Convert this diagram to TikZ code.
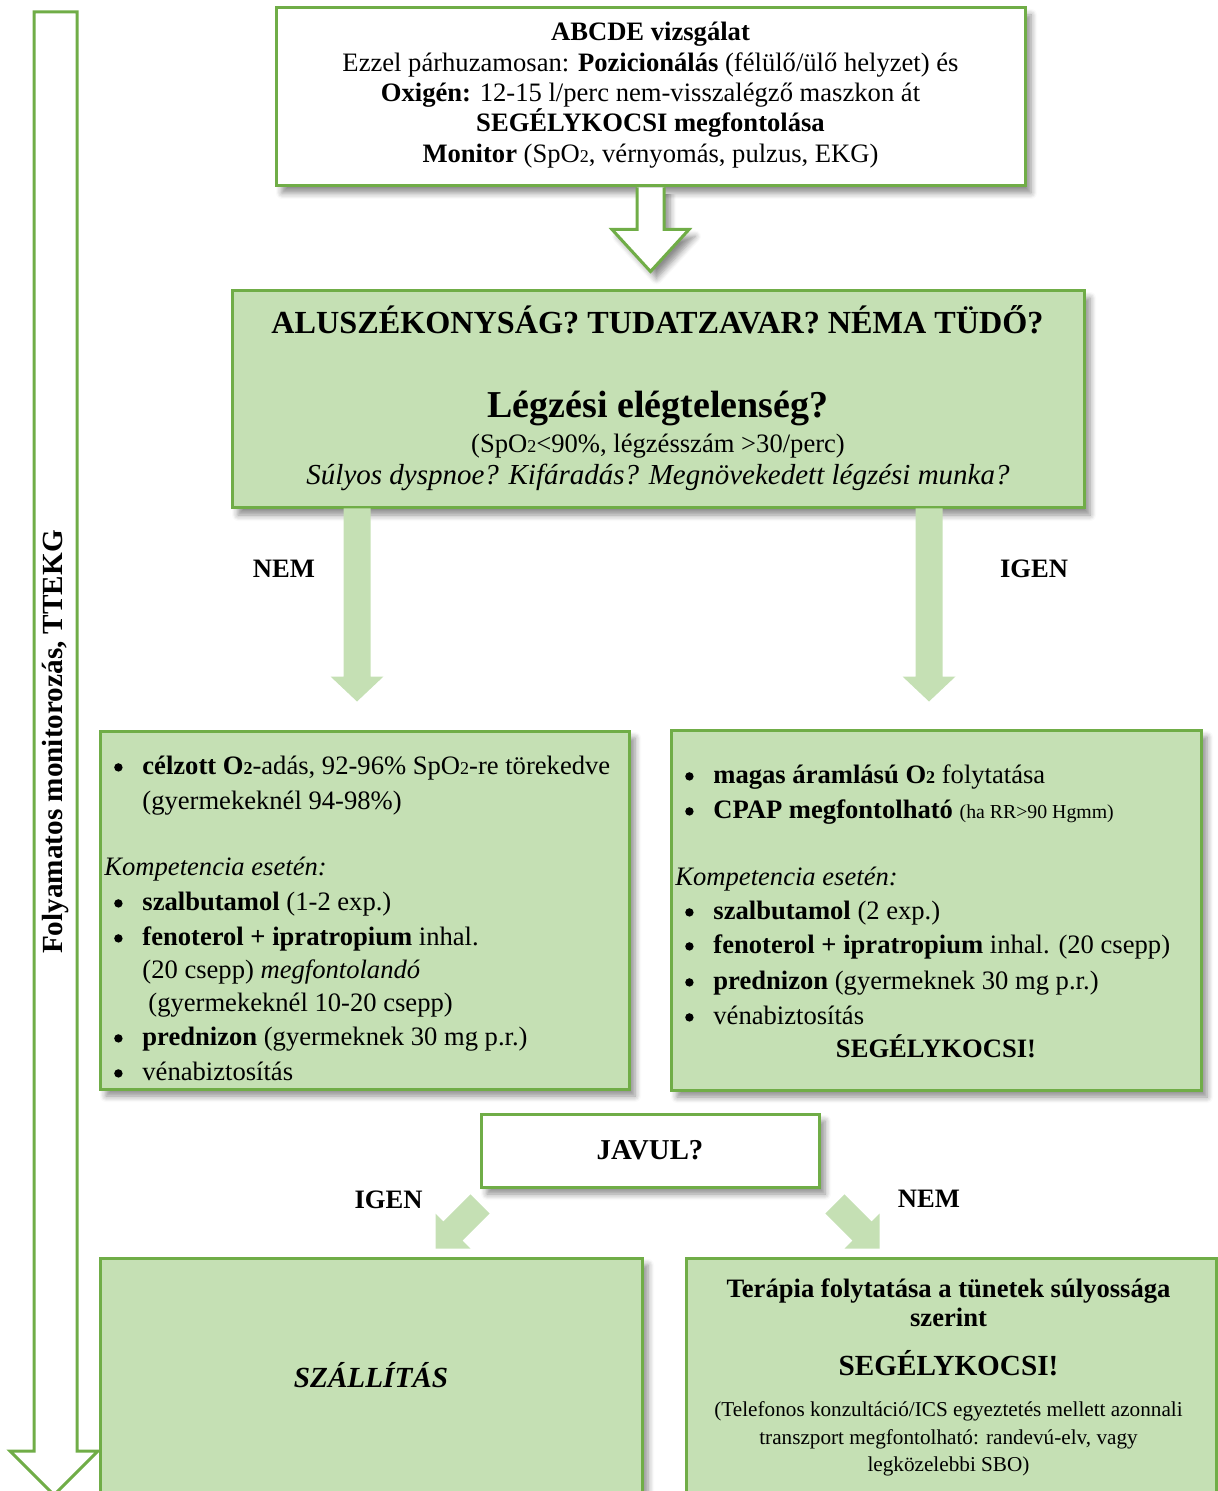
\documentclass[tikz,border=0pt]{standalone}
\usepackage{fontspec}
\setmainfont{Liberation Serif}
\usetikzlibrary{shadows.blur}
\definecolor{gborder}{HTML}{70AD47}
\definecolor{gfill}{HTML}{C5E0B4}
\newcommand\setfs[2]{\fontsize{#1}{#2}\selectfont}
\newcommand\ltwo{{\fontsize{9}{9}\selectfont 2}}
\newcommand\bul{\llap{\tikz[baseline=0pt]\fill (0pt,3.3pt) circle (2.1pt);\hspace{9.9pt}}}
\tikzset{
  shad/.style={blur shadow={shadow xshift=3pt, shadow yshift=-3.5pt, shadow blur radius=3pt, shadow blur steps=6, shadow opacity=45}},
  box/.style={draw=gborder, line width=1.5pt, fill=gfill, inner sep=0pt, shad},
  wbox/.style={box, fill=white},
  txt/.style={inner sep=0pt, anchor=base, font=\setfs{13.3}{15}},
  ltxt/.style={txt, anchor=base west},
  blockarrow/.style={fill=gfill, draw=none},
  hollowarrow/.style={fill=white, draw=gborder, line width=1.5pt, line join=miter},
}
\begin{document}
\begin{tikzpicture}[x=0.5pt,y=-0.5pt]
\useasboundingbox (0,0) rectangle (1218,1491);
\clip (0,0) rectangle (1218,1491);

% long monitoring arrow
\draw[hollowarrow] (34,12) -- (77,12) -- (77,1451) -- (98,1451) -- (54,1495) -- (10,1451) -- (34,1451) -- cycle;
\node[inner sep=0pt, rotate=90, font=\bfseries\setfs{14.6}{16}] (mon) at (56,742) {Folyamatos monitorozás, TTEKG};

% boxes
\node[wbox, minimum width=374.5pt, minimum height=89pt] (top) at (650.5,97) {};
\node[box, minimum width=426pt, minimum height=108.5pt] (q) at (658,399.5) {};
\node[box, minimum width=264.5pt, minimum height=179pt] (lb) at (364.5,910) {};
\node[box, minimum width=265pt, minimum height=180pt] (rb) at (936,910) {};
\node[wbox, minimum width=169pt, minimum height=36.5pt] (jav) at (650,1150.5) {};
\node[box, minimum width=271pt, minimum height=121pt] (bl) at (371,1379) {};
\node[box, minimum width=265pt, minimum height=121pt] (br) at (951,1379) {};

% hollow arrow top -> q
\begin{scope}[shift={(top.south)}]
  \draw[hollowarrow, shad] (-13.5,0) -- (-13.5,42) -- (-38.5,42) -- (0,84) -- (38.5,42) -- (13.5,42) -- (13.5,0);
\end{scope}

% green arrows q -> lb, rb
\begin{scope}[shift={(q.south west)}]
  \fill[blockarrow] (113,-1) -- (113,167) -- (100,167) -- (126.5,192) -- (153,167) -- (140,167) -- (140,-1) -- cycle;
  \fill[blockarrow] (685,-1) -- (685,167) -- (672,167) -- (698.5,192) -- (725,167) -- (712,167) -- (712,-1) -- cycle;
\end{scope}

% diagonal arrows from JAVUL
\begin{scope}[shift={(jav.south west)}]
  \fill[blockarrow] (-44,60) -- (-9,60) -- (-16.95,52.05) -- (10.1,25) -- (-9,5.9) -- (-36.05,32.95) -- (-44,25) -- cycle;
\end{scope}
\begin{scope}[shift={(jav.south east)}]
  \fill[blockarrow] (59,60) -- (24,60) -- (31.95,52.05) -- (4.9,25) -- (24,5.9) -- (51.05,32.95) -- (59,25) -- cycle;
\end{scope}

% top box text
\node[txt] (t1) at (650.5,41) {\textbf{ABCDE vizsgálat}};
\node[txt] (t2) at (650.5,72) {Ezzel párhuzamosan: \textbf{Pozicionálás} (félülő/ülő helyzet) és};
\node[txt] (t3) at (650.5,102) {\textbf{Oxigén:} 12-15 l/perc nem-visszalégző maszkon át};
\node[txt] (t4) at (650.5,132) {\textbf{SEGÉLYKOCSI megfontolása}};
\node[txt] (t5) at (650.5,163) {\textbf{Monitor} (SpO\ltwo, vérnyomás, pulzus, EKG)};

% question box text
\node[txt, font=\bfseries\setfs{16.1}{18}] (q1) at (657.5,334) {ALUSZÉKONYSÁG? TUDATZAVAR? NÉMA TÜDŐ?};
\node[txt, font=\bfseries\setfs{19}{21}] (q2) at (658,418) {Légzési elégtelenség?};
\node[txt] (q3) at (658,453) {(SpO\ltwo<90\%, légzésszám >30/perc)};
\node[txt, font=\itshape\setfs{14.5}{16}] (q4) at (658,484.5) {Súlyos dyspnoe? Kifáradás? Megnövekedett légzési munka?};

% labels
\node[txt, font=\bfseries\setfs{13.3}{15}] (nem1) at (284,577) {NEM};
\node[txt, font=\bfseries\setfs{13.3}{15}] (igen1) at (1034,577) {IGEN};

% left list
\node[ltxt] (l1) at (142,774) {\bul\textbf{célzott O\ltwo}-adás, 92-96\% SpO\ltwo-re törekedve};
\node[ltxt] (l2) at (142,809) {(gyermekeknél 94-98\%)};
\node[ltxt] (l3) at (104,875) {\textit{Kompetencia esetén:}};
\node[ltxt] (l4) at (142,910) {\bul\textbf{szalbutamol} (1-2 exp.)};
\node[ltxt] (l5) at (142,945) {\bul\textbf{fenoterol + ipratropium} inhal.};
\node[ltxt] (l6) at (142,978) {(20 csepp) \textit{megfontolandó}};
\node[ltxt] (l7) at (148,1011) {(gyermekeknél 10-20 csepp)};
\node[ltxt] (l8) at (142,1045) {\bul\textbf{prednizon} (gyermeknek 30 mg p.r.)};
\node[ltxt] (l9) at (142,1080) {\bul vénabiztosítás};

% right list
\node[ltxt] (r1) at (713,783) {\bul\textbf{magas áramlású O\ltwo} folytatása};
\node[ltxt] (r2) at (713,818) {\bul\textbf{CPAP megfontolható} {\setfs{9.9}{12}(ha RR>90 Hgmm)}};
\node[ltxt] (r3) at (675,885) {\textit{Kompetencia esetén:}};
\node[ltxt] (r4) at (713,919) {\bul\textbf{szalbutamol} (2 exp.)};
\node[ltxt] (r5) at (713,953) {\bul\textbf{fenoterol + ipratropium} inhal. (20 csepp)};
\node[ltxt] (r6) at (713,989) {\bul\textbf{prednizon} (gyermeknek 30 mg p.r.)};
\node[ltxt] (r7) at (713,1024) {\bul vénabiztosítás};
\node[txt] (r8) at (936,1057) {\textbf{SEGÉLYKOCSI!}};

% JAVUL
\node[txt, font=\bfseries\setfs{14.4}{16}] (jt) at (650,1159) {JAVUL?};
\node[txt, font=\bfseries\setfs{13.3}{15}] (igen2) at (388.5,1208) {IGEN};
\node[txt, font=\bfseries\setfs{13.3}{15}] (nem2) at (929,1207) {NEM};

% bottom left
\node[txt, font=\bfseries\itshape\setfs{14.6}{16}] (sz) at (371,1387) {SZÁLLÍTÁS};

% bottom right
\node[txt, font=\bfseries\setfs{13.3}{15}] (b1) at (948.5,1297) {Terápia folytatása a tünetek súlyossága};
\node[txt, font=\bfseries\setfs{13.3}{15}] (b2) at (948.5,1326) {szerint};
\node[txt, font=\bfseries\setfs{14.6}{16}] (b3) at (948.5,1375) {SEGÉLYKOCSI!};
\node[txt, font=\setfs{10.6}{12}] (b4) at (948.5,1416) {(Telefonos konzultáció/ICS egyeztetés mellett azonnali};
\node[txt, font=\setfs{10.6}{12}] (b5) at (948.5,1444) {transzport megfontolható: randevú-elv, vagy};
\node[txt, font=\setfs{10.6}{12}] (b6) at (948.5,1471) {legközelebbi SBO)};
\end{tikzpicture}
\end{document}
